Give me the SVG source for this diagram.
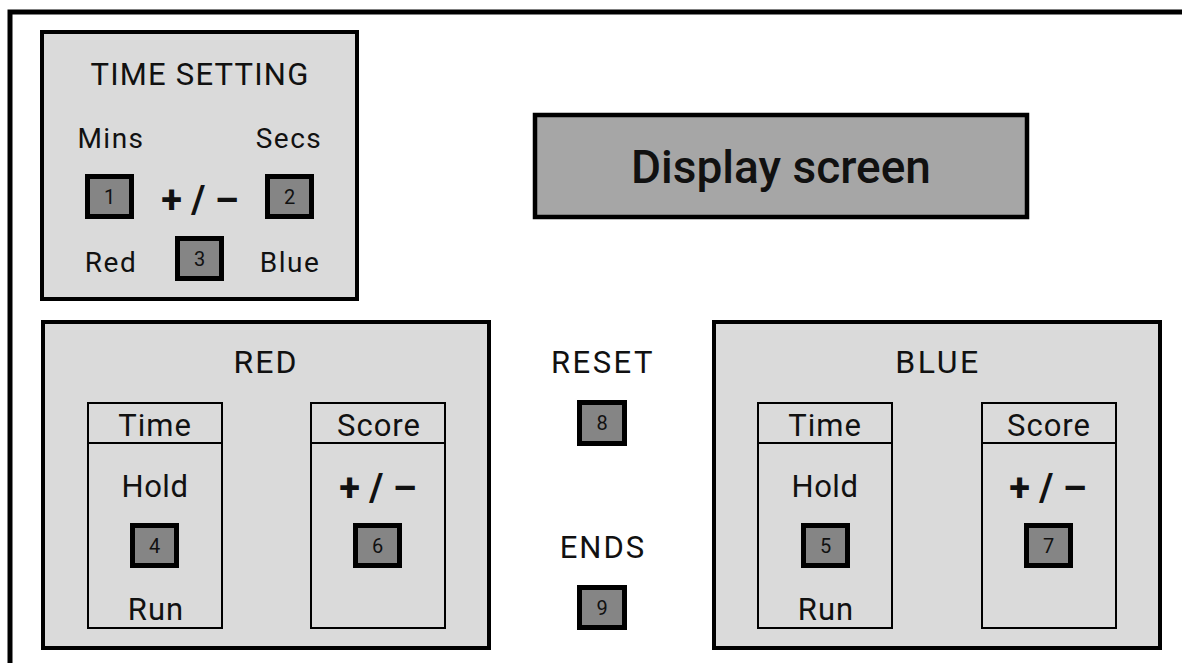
<svg xmlns="http://www.w3.org/2000/svg" width="1182" height="663" viewBox="0 0 1182 663">
  <style>
    text { font-family: Roboto, "Liberation Sans", sans-serif; fill: #111; text-anchor: middle; }
    .panel { fill: #dadada; stroke: #000; stroke-width: 4; }
    .sub { fill: #dadada; stroke: #000; stroke-width: 2; }
    .btn { fill: #858585; stroke: #000; stroke-width: 5; }
    .num { font-size: 20px; }
    .lbl { font-size: 28px; letter-spacing: 1.5px; }
    .head { font-size: 31px; letter-spacing: 1.2px; }
    .title { font-size: 32px; letter-spacing: 2px; }
    .pm { font-size: 38px; font-weight: 700; }
  </style>

  <rect width="1182" height="663" fill="#ffffff"/>
  <!-- outer frame, open towards the right and bottom edges -->
  <path d="M10,663 V12 H1182" fill="none" stroke="#000" stroke-width="5"/>

  <!-- time setting panel -->
  <g id="time-setting">
    <rect class="panel" x="42" y="32" width="315" height="267"/>
    <text class="head" x="200" y="85">TIME SETTING</text>
    <text class="lbl" x="111" y="148">Mins</text>
    <text class="lbl" x="289" y="148">Secs</text>
    <text class="pm" x="200" y="213">+ / –</text>
    <text class="lbl" x="111" y="272">Red</text>
    <text class="lbl" x="290" y="272">Blue</text>
  </g>
  <g id="btn-1">
    <rect class="btn" x="87.5" y="176.5" width="44" height="40"/>
    <text class="num" x="109.5" y="203.5">1</text>
  </g>
  <g id="btn-2">
    <rect class="btn" x="267.5" y="176.5" width="44" height="40"/>
    <text class="num" x="289.5" y="203.5">2</text>
  </g>
  <g id="btn-3">
    <rect class="btn" x="177.5" y="238.5" width="44" height="40"/>
    <text class="num" x="199.5" y="265.5">3</text>
  </g>

  <!-- display -->
  <g id="display-screen">
    <rect x="535" y="115" width="492" height="102" fill="#a6a6a6" stroke="#000" stroke-width="4.5"/>
    <text x="781" y="183" style="font-size:46px;font-weight:500">Display screen</text>
  </g>

  <!-- red team panel -->
  <g id="red-panel">
    <rect class="panel" x="43" y="322" width="446" height="326"/>
    <text class="title" x="266" y="373">RED</text>
  </g>
  <g id="red-time">
    <rect class="sub" x="88" y="403" width="134" height="225"/>
    <line x1="88" y1="443" x2="222" y2="443" stroke="#000" stroke-width="2"/>
    <text class="head" x="155" y="436" style="letter-spacing:1px">Time</text>
    <text class="head" x="155" y="497" style="letter-spacing:0.5px">Hold</text>
    <text class="head" x="156" y="620" style="letter-spacing:1px">Run</text>
  </g>
  <g id="btn-4">
    <rect class="btn" x="132.5" y="525.5" width="44" height="40"/>
    <text class="num" x="154.5" y="552.5">4</text>
  </g>
  <g id="red-score">
    <rect class="sub" x="311" y="403" width="134" height="225"/>
    <line x1="311" y1="443" x2="445" y2="443" stroke="#000" stroke-width="2"/>
    <text class="head" x="379" y="436" style="letter-spacing:1px">Score</text>
    <text class="pm" x="378" y="501">+ / –</text>
  </g>
  <g id="btn-6">
    <rect class="btn" x="355.5" y="525.5" width="44" height="40"/>
    <text class="num" x="377.5" y="552.5">6</text>
  </g>

  <!-- centre controls -->
  <g id="reset">
    <text class="head" x="603" y="373" style="letter-spacing:2.5px">RESET</text>
  </g>
  <g id="btn-8">
    <rect class="btn" x="579.5" y="402.5" width="45" height="41"/>
    <text class="num" x="602" y="430">8</text>
  </g>
  <g id="ends">
    <text class="head" x="603" y="558" style="letter-spacing:2px">ENDS</text>
  </g>
  <g id="btn-9">
    <rect class="btn" x="579.5" y="587.5" width="45" height="40"/>
    <text class="num" x="602" y="614.5">9</text>
  </g>

  <!-- blue team panel -->
  <g id="blue-panel">
    <rect class="panel" x="714" y="322" width="446" height="326"/>
    <text class="title" x="938" y="373" style="letter-spacing:2.5px">BLUE</text>
  </g>
  <g id="blue-time">
    <rect class="sub" x="758" y="403" width="134" height="225"/>
    <line x1="758" y1="443" x2="892" y2="443" stroke="#000" stroke-width="2"/>
    <text class="head" x="825" y="436" style="letter-spacing:1px">Time</text>
    <text class="head" x="825" y="497" style="letter-spacing:0.5px">Hold</text>
    <text class="head" x="826" y="620" style="letter-spacing:1px">Run</text>
  </g>
  <g id="btn-5">
    <rect class="btn" x="803.5" y="525.5" width="44" height="40"/>
    <text class="num" x="825.5" y="552.5">5</text>
  </g>
  <g id="blue-score">
    <rect class="sub" x="982" y="403" width="134" height="225"/>
    <line x1="982" y1="443" x2="1116" y2="443" stroke="#000" stroke-width="2"/>
    <text class="head" x="1049" y="436" style="letter-spacing:1px">Score</text>
    <text class="pm" x="1048" y="501">+ / –</text>
  </g>
  <g id="btn-7">
    <rect class="btn" x="1026.5" y="525.5" width="44" height="40"/>
    <text class="num" x="1048.5" y="552.5">7</text>
  </g>
</svg>
